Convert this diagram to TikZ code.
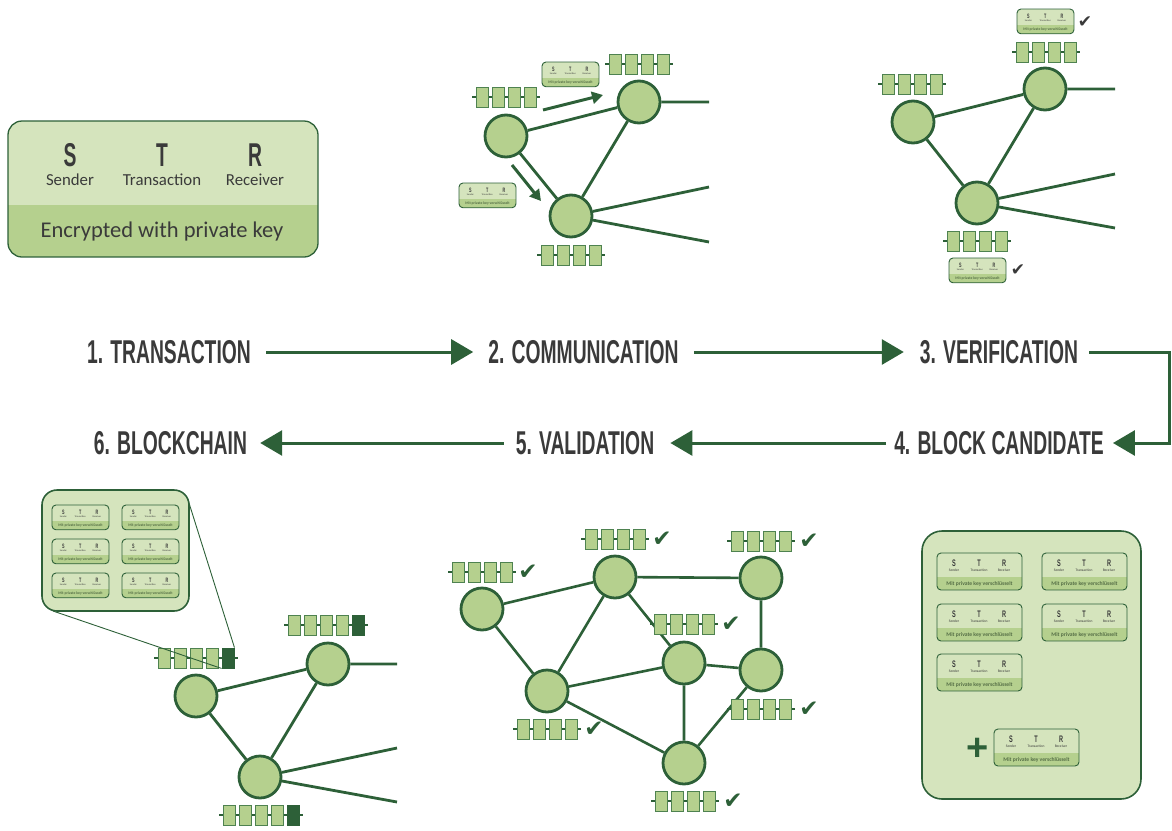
\documentclass[tikz,border=0pt]{standalone}
\usepackage{fontspec}
\usetikzlibrary{arrows.meta,calc}
\setmainfont{Carlito}
\newfontfamily\stepfont[FakeStretch=0.585]{Liberation Sans}
\newfontfamily\plainsans{Liberation Sans}
\newfontfamily\checkfont{DejaVu Sans}
\definecolor{dkgreen}{RGB}{45,96,56}
\definecolor{nodefill}{RGB}{181,208,142}
\definecolor{cardlight}{RGB}{213,228,189}
\definecolor{carddark}{RGB}{181,208,142}
\definecolor{txtgray}{RGB}{58,58,58}
\definecolor{chainedge}{RGB}{78,130,80}
\definecolor{smalltxt}{RGB}{85,110,70}
\tikzset{
  peer/.style={circle, minimum size=42pt, inner sep=0pt, line width=2.8pt, draw=dkgreen, fill=nodefill},
  link/.style={line width=2.8pt, draw=dkgreen},
  blk/.style={rectangle, minimum width=12pt, minimum height=20pt, inner sep=0pt, draw=chainedge, line width=0.9pt, fill=nodefill},
  blkdark/.style={blk, fill=dkgreen, draw=dkgreen},
  chainline/.style={line width=1.1pt, draw=dkgreen},
  steplabel/.style={font=\stepfont\bfseries\fontsize{33}{33}\selectfont, text=txtgray, inner sep=0pt},
  flow/.style={line width=3pt, draw=dkgreen, -{Triangle[length=22pt,width=25pt]}},
  sendarrow/.style={line width=3pt, draw=dkgreen, -{Triangle[length=11pt,width=12pt]}},
  tick/.style={font=\checkfont\fontsize{23}{23}\selectfont, text=dkgreen, inner sep=0pt},
  graytick/.style={font=\checkfont\fontsize{17}{17}\selectfont, text=txtgray, inner sep=0pt},
  zoomline/.style={line width=0.9pt, draw=dkgreen},
  panel/.style={fill=cardlight, draw=dkgreen, line width=1.6pt, inner sep=0pt},
  cardletter/.style={font=\stepfont\bfseries\fontsize{9.5}{9.5}\selectfont, text=txtgray, inner sep=0pt},
  cardtiny/.style={font=\fontsize{3.6}{3.6}\selectfont, text=txtgray, inner sep=0pt},
  cardfoot/.style={font=\bfseries\fontsize{5.6}{5.6}\selectfont, text=smalltxt, inner sep=0pt},
  bigletter/.style={font=\stepfont\bfseries\fontsize{33}{33}\selectfont, text=txtgray, inner sep=0pt},
  bigword/.style={font=\fontsize{16.8}{16.8}\selectfont, text=txtgray, inner sep=0pt},
  pics/chain/.style={code={
    \draw[chainline] (-10,0) -- (58,0);
    \foreach \i in {0,...,3} \node[blk] (-b\i) at (\i*16,0) {};
  }},
  pics/chainfive/.style={code={
    \draw[chainline] (-10,0) -- (74,0);
    \foreach \i in {0,...,3} \node[blk] (-b\i) at (\i*16,0) {};
    \node[blkdark] (-b4) at (64,0) {};
  }},
  pics/card/.style={code={
    \fill[cardlight, rounded corners=4pt] (0,0) rectangle (85,37);
    \begin{scope}
      \clip[rounded corners=4pt] (0,0) rectangle (85,37);
      \fill[carddark] (0,24) rectangle (85,37);
    \end{scope}
    \draw[dkgreen, line width=0.9pt, rounded corners=4pt] (0,0) rectangle (85,37);
    \node[cardletter] (-s) at (17,10.5) {S};
    \node[cardletter] (-t) at (42,10.5) {T};
    \node[cardletter] (-r) at (67,10.5) {R};
    \node[cardtiny] (-ls) at (17,17) {Sender};
    \node[cardtiny] (-lt) at (42,17) {Transaction};
    \node[cardtiny] (-lr) at (67,17) {Receiver};
    \node[cardfoot] (-f) at (42.5,30.5) {Mit private key verschlüsselt};
  }},
}
\begin{document}
\begin{tikzpicture}[x=1pt,y=-1pt]
\useasboundingbox (0,0) rectangle (1172,830);

% ---------- large transaction card ----------
\begin{scope}
  \clip[rounded corners=14pt] (8,121) rectangle (318,257);
  \fill[cardlight] (8,121) rectangle (318,205);
  \fill[carddark] (8,205) rectangle (318,257);
\end{scope}
\draw[dkgreen, line width=1.3pt, rounded corners=14pt] (8,121) rectangle (318,257);
\node[bigletter] (bigS) at (70,155) {S};
\node[bigletter] (bigT) at (162,155) {T};
\node[bigletter] (bigR) at (255,155) {R};
\node[bigword] (bigSl) at (70,180) {Sender};
\node[bigword] (bigTl) at (162,180) {Transaction};
\node[bigword] (bigRl) at (255,180) {Receiver};
\node[font=\fontsize{22.5}{22.5}\selectfont, text=txtgray, inner sep=0pt] (bigF) at (162,231) {Encrypted with private key};

% ---------- step labels and flow arrows ----------
\node[steplabel] (l1) at (169,352) {1. TRANSACTION};
\node[steplabel] (l2) at (583.5,352) {2. COMMUNICATION};
\node[steplabel] (l3) at (999,352) {3. VERIFICATION};
\node[steplabel] (l6) at (170.5,443) {6. BLOCKCHAIN};
\node[steplabel] (l5) at (585,443) {5. VALIDATION};
\node[steplabel] (l4) at (999,443) {4. BLOCK CANDIDATE};
\coordinate (rc1) at (1169.5,352);
\coordinate (rc2) at (1169.5,443);
\draw[flow, shorten <=15pt, shorten >=15pt] (l1.east) -- (l2.west);
\draw[flow, shorten <=15pt, shorten >=16pt] (l2.east) -- (l3.west);
\draw[flow, shorten <=11pt, shorten >=9pt] (l3.east) -- (rc1) -- (rc2) -- (l4.east);
\draw[flow, shorten <=8pt, shorten >=16pt] (l4.west) -- (l5.east);
\draw[flow, shorten <=12pt, shorten >=13pt] (l5.west) -- (l6.east);

% ---------- step 2: communication ----------
\node[peer] (p2a) at (506,136) {};
\node[peer] (p2b) at (639,102) {};
\node[peer] (p2c) at (571,216) {};
\coordinate (e2b) at (709,102);
\coordinate (e2c1) at (709,187);
\coordinate (e2c2) at (709,242);
\draw[link] (p2a) -- (p2b) (p2a) -- (p2c) (p2b) -- (p2c) (p2b) -- (e2b) (p2c) -- (e2c1) (p2c) -- (e2c2);
\coordinate (s1a) at (543,110);
\coordinate (s1b) at (603,95);
\coordinate (s2a) at (512,165);
\coordinate (s2b) at (541,201);
\draw[sendarrow] (s1a) -- (s1b);
\draw[sendarrow] (s2a) -- (s2b);
\pic (c2a) at (482,97) {chain};
\pic (c2b) at (615,64) {chain};
\pic (c2c) at (547,255) {chain};
\pic[scale=0.67, transform shape] (k2a) at (542,62) {card};
\pic[scale=0.67, transform shape] (k2b) at (459,183) {card};

% ---------- step 3: verification ----------
\node[peer] (p3a) at (913,122) {};
\node[peer] (p3b) at (1045,89) {};
\node[peer] (p3c) at (977,203) {};
\coordinate (e3b) at (1115,89);
\coordinate (e3c1) at (1115,174);
\coordinate (e3c2) at (1115,228);
\draw[link] (p3a) -- (p3b) (p3a) -- (p3c) (p3b) -- (p3c) (p3b) -- (e3b) (p3c) -- (e3c1) (p3c) -- (e3c2);
\pic (c3a) at (888,84) {chain};
\pic (c3b) at (1022,52) {chain};
\pic (c3c) at (953,241) {chain};
\pic[scale=0.67, transform shape] (k3b) at (1017,9) {card};
\pic[scale=0.67, transform shape] (k3c) at (949,258) {card};
\node[graytick] (t3b) at (1085,22) {✔};
\node[graytick] (t3c) at (1018,270) {✔};

% ---------- step 4: block candidate ----------
\node[panel, rounded corners=20pt, minimum width=219pt, minimum height=268pt] (cand) at (1031.5,665) {};
\pic (k4a) at (937,553) {card};
\pic (k4b) at (1042,553) {card};
\pic (k4c) at (937,604) {card};
\pic (k4d) at (1042,604) {card};
\pic (k4e) at (937,654) {card};
\pic (k4f) at (994,729) {card};
\node[font=\plainsans\bfseries\fontsize{38}{38}\selectfont, text=dkgreen, inner sep=0pt] (plus) at (978,749) {+};

% ---------- step 5: validation ----------
\node[peer] (p5a) at (482,609) {};
\node[peer] (p5b) at (615,577) {};
\node[peer] (p5c) at (761,578) {};
\node[peer] (p5d) at (684,663) {};
\node[peer] (p5e) at (761,670) {};
\node[peer] (p5f) at (547,691) {};
\node[peer] (p5g) at (684,763) {};
\draw[link, line width=2.6pt] (p5a) -- (p5b) (p5a) -- (p5f) (p5b) -- (p5c) (p5b) -- (p5f) (p5b) -- (p5d)
  (p5c) -- (p5e) (p5d) -- (p5e) (p5d) -- (p5f) (p5d) -- (p5g) (p5f) -- (p5g) (p5e) -- (p5g);
\pic (c5a) at (458,572) {chain};
\pic (c5b) at (591,539) {chain};
\pic (c5c) at (737,541) {chain};
\pic (c5d) at (660,624) {chain};
\pic (c5e) at (737,709) {chain};
\pic (c5f) at (523,729) {chain};
\pic (c5g) at (661,801) {chain};
\node[tick] (t5a) at (528,572) {✔};
\node[tick] (t5b) at (662,539) {✔};
\node[tick] (t5c) at (809,541) {✔};
\node[tick] (t5d) at (731,624) {✔};
\node[tick] (t5e) at (809,709) {✔};
\node[tick] (t5f) at (594,729) {✔};
\node[tick] (t5g) at (733,801) {✔};

% ---------- step 6: blockchain ----------
\node[peer] (p6a) at (196,696) {};
\node[peer] (p6b) at (328,664) {};
\node[peer] (p6c) at (260,777) {};
\coordinate (e6b) at (397,664);
\coordinate (e6c1) at (397,748);
\coordinate (e6c2) at (397,802);
\draw[link] (p6a) -- (p6b) (p6a) -- (p6c) (p6b) -- (p6c) (p6b) -- (e6b) (p6c) -- (e6c1) (p6c) -- (e6c2);
\pic (c6a) at (164,658) {chainfive};
\pic (c6b) at (294,625) {chainfive};
\pic (c6c) at (229,815) {chainfive};
\node[panel, rounded corners=15pt, minimum width=147pt, minimum height=121pt] (zp) at (115.5,550.5) {};
\pic[scale=0.67, transform shape] (k6a) at (52,505) {card};
\pic[scale=0.67, transform shape] (k6b) at (122,505) {card};
\pic[scale=0.67, transform shape] (k6c) at (52,539) {card};
\pic[scale=0.67, transform shape] (k6d) at (122,539) {card};
\pic[scale=0.67, transform shape] (k6e) at (52,573) {card};
\pic[scale=0.67, transform shape] (k6f) at (122,573) {card};
\coordinate (zbl) at (53,611);
\coordinate (ztr) at (189,503);
\draw[zoomline] (zbl) -- (c6a-b4.south west);
\draw[zoomline] (ztr) -- (c6a-b4.north east);
\end{tikzpicture}
\end{document}
